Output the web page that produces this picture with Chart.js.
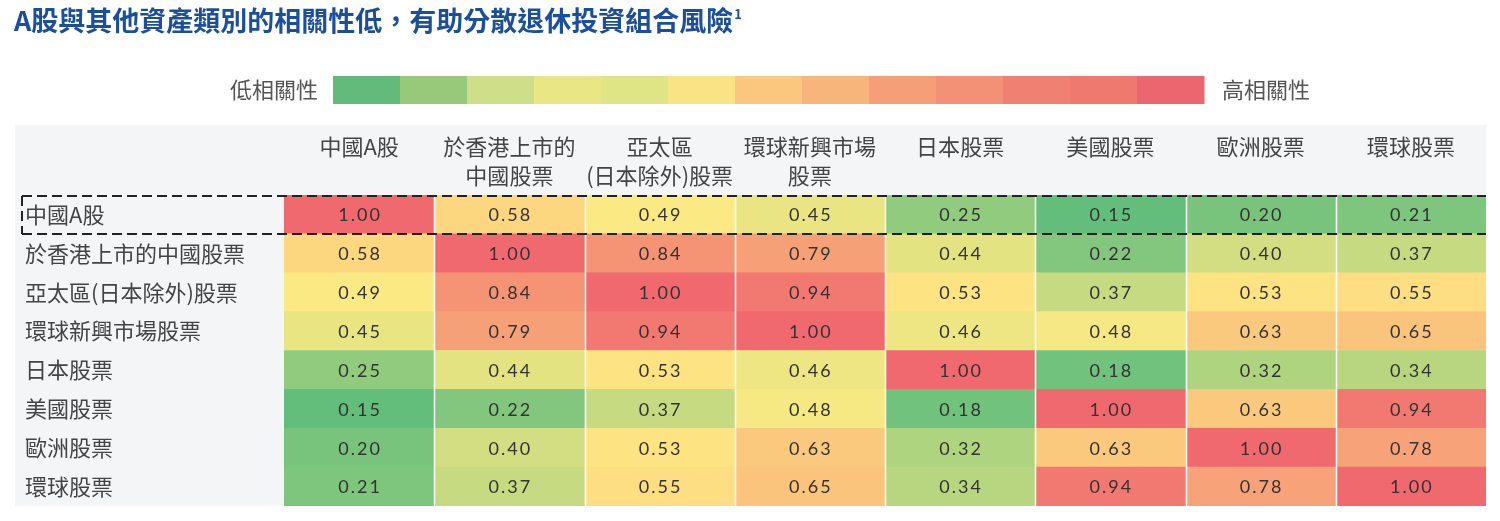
<!DOCTYPE html>
<html>
<head>
<meta charset="utf-8">
<script src="https://cdn.jsdelivr.net/npm/chart.js@4"></script>
<style>
  html, body { margin: 0; padding: 0; background: #fff; }
  #wrap { width: 1500px; height: 521px; }
</style>
</head>
<body>
<div id="wrap"><canvas id="heat" width="1500" height="521"></canvas></div>
<script>
// categories
const rowLabels = ['中國A股', '於香港上市的中國股票', '亞太區(日本除外)股票', '環球新興市場股票', '日本股票', '美國股票', '歐洲股票', '環球股票'];
const colLabels = [['中國A股'], ['於香港上市的', '中國股票'], ['亞太區', '(日本除外)股票'], ['環球新興市場', '股票'], ['日本股票'], ['美國股票'], ['歐洲股票'], ['環球股票']];

// correlation rows
const chinaA     = [1.00, 0.58, 0.49, 0.45, 0.25, 0.15, 0.20, 0.21];
const hkChina    = [0.58, 1.00, 0.84, 0.79, 0.44, 0.22, 0.40, 0.37];
const asiaPacXJ  = [0.49, 0.84, 1.00, 0.94, 0.53, 0.37, 0.53, 0.55];
const globalEM   = [0.45, 0.79, 0.94, 1.00, 0.46, 0.48, 0.63, 0.65];
const japan      = [0.25, 0.44, 0.53, 0.46, 1.00, 0.18, 0.32, 0.34];
const usa        = [0.15, 0.22, 0.37, 0.48, 0.18, 1.00, 0.63, 0.94];
const europe     = [0.20, 0.40, 0.53, 0.63, 0.32, 0.63, 1.00, 0.78];
const globalEq   = [0.21, 0.37, 0.55, 0.65, 0.34, 0.94, 0.78, 1.00];
const matrix = [chinaA, hkChina, asiaPacXJ, globalEM, japan, usa, europe, globalEq];

// legend swatches (low -> high)
const legendColors = ['#63bb7b', '#98c97a', '#cfde88', '#e8e685', '#dfe485', '#f9e385', '#fbc77e', '#f7b57c', '#f59e78', '#f29175', '#f08071', '#ef796f', '#ec666f'];

const lowC = [99, 190, 123], midC = [255, 235, 132], highC = [240, 105, 110];
const vMin = 0.15, vMid = 0.5, vMax = 1.0;
function mix(a, b, t) {
  return 'rgb(' + a.map((c, i) => Math.round(c + (b[i] - c) * t)).join(',') + ')';
}
function colorFor(v) {
  if (v <= vMid) return mix(lowC, midC, Math.max(0, (v - vMin) / (vMid - vMin)));
  return mix(midC, highC, Math.min(1, (v - vMid) / (vMax - vMid)));
}

const cjk = '"Noto Sans CJK TC", "Noto Sans", sans-serif';

const datasets = colLabels.map((c, j) => ({
  label: c.join(''),
  data: matrix.map(() => [j, j + 1]),
  values: matrix.map(r => r[j]),
  backgroundColor: matrix.map(r => colorFor(r[j])),
  borderWidth: 0,
  borderSkipped: false,
  barPercentage: 1,
  categoryPercentage: 1,
  grouped: false
}));

const decor = {
  id: 'decor',
  beforeDraw(chart) {
    const ctx = chart.ctx;
    const a = chart.chartArea;
    ctx.save();
    // table background
    ctx.fillStyle = '#f4f5f7';
    ctx.fillRect(15, 125, a.right - 15, a.bottom - 125);
    // title
    ctx.fillStyle = '#1b4f9c';
    ctx.font = 'bold 27px ' + cjk;
    ctx.textBaseline = 'middle';
    ctx.textAlign = 'left';
    const title = 'A股與其他資產類別的相關性低，有助分散退休投資組合風險';
    ctx.fillText(title, 14, 21);
    const w = ctx.measureText(title).width;
    ctx.font = 'bold 13px ' + cjk;
    ctx.fillText('1', 14 + w + 1, 14);
    // colour legend
    const lx = 333, lw = 67, ly = 76, lh = 28;
    legendColors.forEach((c, i) => {
      ctx.fillStyle = c;
      ctx.fillRect(lx + i * lw, ly, lw + 0.5, lh);
    });
    ctx.fillStyle = '#555';
    ctx.font = '22px ' + cjk;
    ctx.textAlign = 'right';
    ctx.fillText('低相關性', 318, ly + lh / 2);
    ctx.textAlign = 'left';
    ctx.fillText('高相關性', lx + legendColors.length * lw + 18, ly + lh / 2);
    ctx.restore();
  },
  afterDatasetsDraw(chart) {
    const ctx = chart.ctx;
    const a = chart.chartArea;
    const xs = chart.scales.x;
    ctx.save();
    // white column separators
    ctx.strokeStyle = '#ffffff';
    ctx.lineWidth = 1.5;
    for (let j = 1; j < colLabels.length; j++) {
      const x = Math.round(xs.getPixelForValue(j)) + 0.5;
      ctx.beginPath();
      ctx.moveTo(x, a.top);
      ctx.lineTo(x, a.bottom);
      ctx.stroke();
    }
    // values
    ctx.fillStyle = '#333';
    ctx.font = '18px Lato, "DejaVu Sans", sans-serif';
    ctx.letterSpacing = '2px';
    ctx.textAlign = 'center';
    ctx.textBaseline = 'middle';
    chart.data.datasets.forEach((ds, di) => {
      chart.getDatasetMeta(di).data.forEach((el, i) => {
        ctx.fillText(ds.values[i].toFixed(2), (el.x + el.base) / 2 + 1, el.y + 1);
      });
    });
    ctx.letterSpacing = '0px';
    // dashed frame round the first row
    const ys = chart.scales.y;
    const rowH = ys.getPixelForValue(1) - ys.getPixelForValue(0);
    const top = a.top + 1, bot = a.top + rowH;
    ctx.strokeStyle = '#222';
    ctx.lineWidth = 2;
    ctx.setLineDash([10, 5]);
    ctx.beginPath();
    ctx.moveTo(22, top); ctx.lineTo(a.right, top);
    ctx.moveTo(22, bot); ctx.lineTo(a.right, bot);
    ctx.moveTo(22, top); ctx.lineTo(22, bot);
    ctx.stroke();
    ctx.restore();
  }
};

new Chart(document.getElementById('heat'), {
  type: 'bar',
  data: { labels: rowLabels, datasets: datasets },
  options: {
    indexAxis: 'y',
    responsive: false,
    animation: false,
    devicePixelRatio: 1,
    layout: { padding: { left: 25, top: 125, right: 14, bottom: 15 } },
    plugins: { legend: { display: false }, tooltip: { enabled: false } },
    scales: {
      x: {
        type: 'linear',
        position: 'top',
        min: 0,
        max: 8,
        grid: { display: false },
        border: { display: false },
        afterFit: s => { s.height = 70; },
        afterBuildTicks: s => { s.ticks = colLabels.map((c, j) => ({ value: j + 0.5 })); },
        ticks: {
          crossAlign: 'far',
          padding: -3,
          color: '#444',
          font: { family: cjk, size: 22, lineHeight: '29px' },
          callback: v => colLabels[Math.floor(v)]
        }
      },
      y: {
        type: 'category',
        grid: { display: false },
        border: { display: false },
        afterFit: s => { s.width = 259; },
        ticks: {
          crossAlign: 'far',
          padding: 0,
          color: '#444',
          font: { family: cjk, size: 22 }
        }
      }
    }
  },
  plugins: [decor]
});
</script>
</body>
</html>
